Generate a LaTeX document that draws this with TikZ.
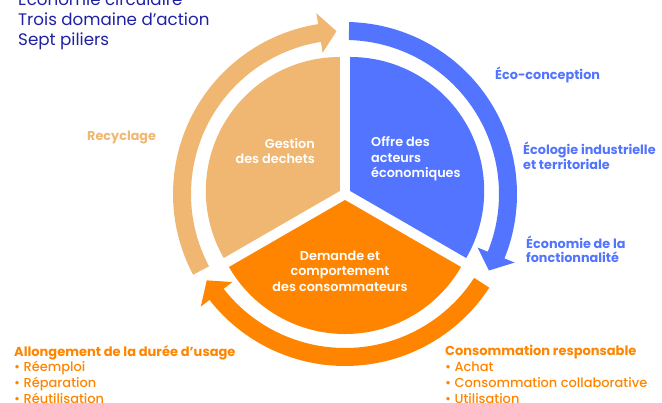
\documentclass[tikz,border=0pt]{standalone}
\usepackage{fontspec}
\setmainfont{Poppins}
\newfontfamily\medfont{Poppins Medium}
\newfontfamily\semifont{Poppins SemiBold}
\usepackage{tikz}
\usetikzlibrary{positioning}
\definecolor{navy}{RGB}{30,32,165}
\definecolor{offreblue}{RGB}{82,116,255}
\definecolor{gestiontan}{RGB}{240,183,115}
\definecolor{demandeorange}{RGB}{255,133,0}

\begin{document}
\begin{tikzpicture}[x=1pt, y=1pt, every node/.style={inner sep=0pt},
  sector/.style={font=\semifont\fontsize{12.8}{15.5}\selectfont, text=white},
  pilier/.style={font=\bfseries\fontsize{12.8}{14.5}\selectfont, anchor=west, align=left},
  liste/.style={font=\medfont\fontsize{13}{15.8}\selectfont, anchor=west, align=left, text=demandeorange}]
  \useasboundingbox (0,0) rectangle (662,403);

  \node[anchor=west, align=left, text=navy, font=\fontsize{16.7}{20}\selectfont] (titre) at (18,383)
    {Économie circulaire\\Trois domaine d’action\\Sept piliers};

  \begin{scope}[shift={(345,209)}]
    \fill[gestiontan, shift={(150:6)}] (0,0) -- (90:134) arc[start angle=90, end angle=210, radius=134] -- cycle;
    \fill[offreblue, shift={(30:6)}] (0,0) -- (90:134) arc[start angle=90, end angle=-30, radius=134] -- cycle;
    \fill[demandeorange, shift={(270:6)}] (0,0) -- (210:134) arc[start angle=210, end angle=330, radius=134] -- cycle;

    \foreach \col/\a/\b in {gestiontan/208/93, offreblue/88.6/-28, demandeorange/-33/-148}{
      \pgfmathsetmacro{\c}{\b+6}
      \fill[\col] (\a:154) arc[start angle=\a, end angle=\c, radius=154] -- (\c:143) -- (\b:163)
        -- (\c:183) -- (\c:172) arc[start angle=\c, end angle=\a, radius=172] -- cycle;
    }
  \end{scope}

  \node[sector, anchor=east, align=right] (gestion) at (315,252) {Gestion\\des dechets};
  \node[sector, anchor=west, align=left] (offre) at (371,244) {Offre des\\acteurs\\économiques};
  \node[sector, align=center] (demande) at (340,132) {Demande et\\comportement\\des consommateurs};

  \node[pilier, text=gestiontan] (recyclage) at (87,265) {Recyclage};
  \node[pilier, text=offreblue] (eco) at (495,328) {Éco-conception};
  \node[pilier, text=offreblue] (ecologie) at (523,247) {Écologie industrielle\\et territoriale};
  \node[pilier, text=offreblue] (economie) at (526,153.5) {Économie de la\\fonctionnalité};

  \node[liste] (allongement) at (14,28.5)
    {{\rmfamily\bfseries Allongement de la durée d’usage}\\• Réemploi\\• Réparation\\• Réutilisation};
  \node[liste] (consommation) at (445,28.5)
    {{\rmfamily\bfseries Consommation responsable}\\• Achat\\• Consommation collaborative\\• Utilisation};
\end{tikzpicture}
\end{document}
